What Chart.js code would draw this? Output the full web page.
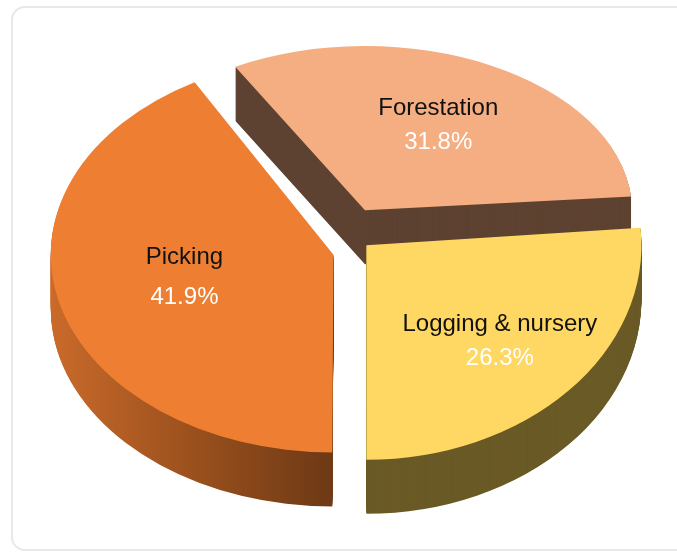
<!DOCTYPE html>
<html>
<head>
<meta charset="utf-8">
<script src="https://cdn.jsdelivr.net/npm/chart.js@4/dist/chart.umd.min.js"></script>
<style>
  body { margin: 0; background: #fff; }
  #wrap { position: relative; width: 677px; height: 553px; overflow: hidden; }
  #card { position: absolute; left: 11px; top: 6px; width: 720px; height: 545px;
          border: 2px solid #e8e8e8; border-radius: 14px; box-sizing: border-box; }
  #pie { position: absolute; left: 0; top: 0; }
</style>
</head>
<body>
<div id="wrap">
  <div id="card"></div>
  <canvas id="pie" width="677" height="553"></canvas>
</div>
<script>
// data
const categories = ['Picking', 'Forestation', 'Logging & nursery'];
const shares = [41.9, 31.8, 26.3];

const topColors = ['#ee7f32', '#f4ae82', '#fed862'];
const explode = [60, 144, 100];      // chart.js arc offset (drawn at 1/4)
const labelPos = [0.56, 0.59, 0.66]; // fraction of radius for the labels

// fake perspective: each slice gets its own flattening, far one flatter
const tiltY = [0.70, 0.59, 0.78];
const tiltX = [1, 0.96, 1];
const lift = [7, -16, -13];
const depth = 54;      // thickness of the disc in px

function wallColor(ctx, i) {
    if (i === 0) {
        const g = ctx.createLinearGradient(50, 0, 340, 0);
        g.addColorStop(0, '#cf6d2c');
        g.addColorStop(0.55, '#9a501d');
        g.addColorStop(1, '#6f3a16');
        return g;
    }
    if (i === 1) return '#5e4231';
    return '#6a5a26';
}

function apex(el) {
    const half = (el.startAngle + el.endAngle) / 2;
    const o = el.options.offset / 4;
    return { half, x: el.x + Math.cos(half) * o, y: el.y + Math.sin(half) * o };
}

function tilt(ctx, el, i, d) {
    const a = apex(el);
    ctx.translate(0, lift[i] + d);
    ctx.translate(a.x, el.y);
    ctx.scale(tiltX[i], tiltY[i]);
    ctx.translate(-a.x, -el.y);
}

function drawSlice(ctx, el, fill) {
    const ghost = Object.create(el);
    ghost.options = Object.assign({}, el.options, { backgroundColor: fill, borderWidth: 0 });
    el.draw.call(ghost, ctx);
}

const pie3d = {
    id: 'pie3d',
    beforeDatasetsDraw(chart) {
        const ctx = chart.ctx;
        const arcs = chart.getDatasetMeta(0).data;
        // side walls: the same arcs pushed down, darker
        for (let d = depth; d >= 1; d--) {
            arcs.forEach((el, i) => {
                ctx.save();
                tilt(ctx, el, i, d);
                drawSlice(ctx, el, wallColor(ctx, i));
                ctx.restore();
            });
        }
        // top faces
        arcs.forEach((el, i) => {
            ctx.save();
            tilt(ctx, el, i, 0);
            el.draw(ctx);
            ctx.restore();
        });
        return false;
    },
    afterDraw(chart) {
        const ctx = chart.ctx;
        const arcs = chart.getDatasetMeta(0).data;
        ctx.save();
        ctx.textAlign = 'center';
        ctx.textBaseline = 'middle';
        ctx.font = '24px "Liberation Sans", Arial, sans-serif';
        arcs.forEach((el, i) => {
            const a = apex(el);
            const r = labelPos[i] * el.outerRadius;
            const x = a.x + Math.cos(a.half) * r * tiltX[i];
            const y = el.y + (a.y + Math.sin(a.half) * r - el.y) * tiltY[i] + lift[i];
            const gap = i === 0 ? 20 : 17;
            ctx.fillStyle = '#111';
            ctx.fillText(categories[i], x, y - gap - (i === 0 ? 4 : 0));
            ctx.fillStyle = '#ffffff';
            ctx.fillText(shares[i] + '%', x, y + gap - (i === 0 ? 4 : 0));
        });
        ctx.restore();
    }
};

window.addEventListener('load', () => {
    const ctx = document.querySelector('#pie').getContext('2d');
    new Chart(ctx, {
        type: 'pie',
        data: {
            labels: categories,
            datasets: [{
                data: shares,
                backgroundColor: topColors,
                borderWidth: 0,
                offset: explode
            }]
        },
        options: {
            responsive: false,
            animation: false,
            rotation: 180,
            radius: 275,
            layout: { padding: { left: 19, bottom: 63 } },
            plugins: {
                legend: { display: false },
                tooltip: { enabled: false }
            }
        },
        plugins: [pie3d]
    });
});
</script>
</body>
</html>
